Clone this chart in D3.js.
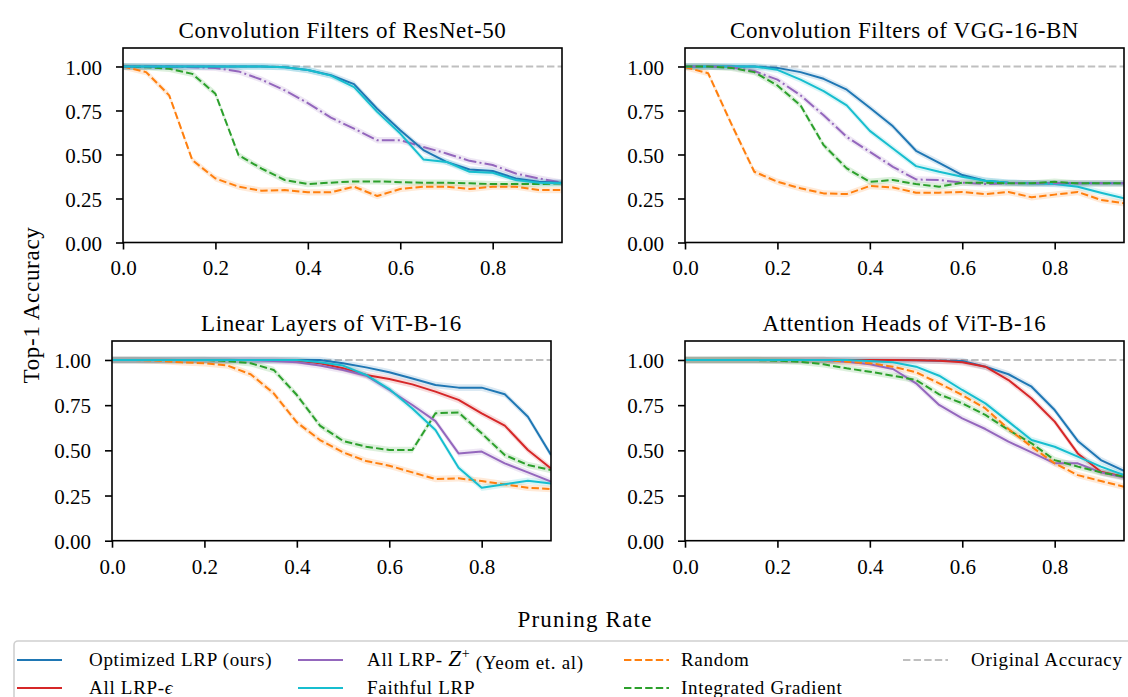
<!DOCTYPE html>
<html>
<head>
<meta charset="utf-8">
<script src="https://cdn.jsdelivr.net/npm/d3@7.9.0/dist/d3.min.js"></script>
<style>
  body { margin: 0; background: #fff; }
  svg { font-family: "Liberation Serif", "DejaVu Serif", serif; }
</style>
</head>
<body>
<svg id="chart" width="1128" height="697"></svg>
<script>
// pruning rates shared by every panel
const rates = d3.range(20).map(i => i * 0.05);
const yTicks = [0, 0.25, 0.5, 0.75, 1.0];
const xTicks = [0, 0.2, 0.4, 0.6, 0.8];
const originalAccuracy = 1.0;
const band = 0.018; // half width of the shaded spread

// ---- Convolution Filters of ResNet-50
const resnetOptimized = [1, 1, 1, 1, 1, 1, 1, 0.996, 0.98, 0.95, 0.9, 0.76, 0.638, 0.525, 0.458, 0.415, 0.406, 0.364, 0.345, 0.34];
const resnetZplus     = [1, 1, 1, 0.996, 0.992, 0.972, 0.925, 0.864, 0.792, 0.709, 0.647, 0.581, 0.581, 0.543, 0.506, 0.464, 0.44, 0.392, 0.364, 0.34];
const resnetFaithful  = [1, 1, 1, 1, 1, 1, 1, 0.996, 0.98, 0.948, 0.883, 0.742, 0.619, 0.472, 0.458, 0.402, 0.396, 0.355, 0.34, 0.336];
const resnetRandom    = [1, 0.968, 0.836, 0.468, 0.364, 0.317, 0.294, 0.298, 0.285, 0.285, 0.317, 0.264, 0.304, 0.317, 0.317, 0.304, 0.317, 0.317, 0.298, 0.298];
const resnetIG        = [1, 0.996, 0.987, 0.958, 0.845, 0.496, 0.42, 0.355, 0.332, 0.34, 0.347, 0.347, 0.343, 0.34, 0.34, 0.336, 0.332, 0.332, 0.332, 0.336];

// ---- Convolution Filters of VGG-16-BN
const vggOptimized = [1, 1, 1, 1, 0.992, 0.968, 0.93, 0.868, 0.766, 0.66, 0.521, 0.453, 0.383, 0.351, 0.34, 0.336, 0.336, 0.336, 0.336, 0.336];
const vggZplus     = [1, 1, 0.996, 0.974, 0.925, 0.836, 0.723, 0.6, 0.515, 0.43, 0.358, 0.355, 0.34, 0.332, 0.336, 0.336, 0.336, 0.336, 0.336, 0.336];
const vggFaithful  = [1, 1, 1, 1, 0.981, 0.925, 0.86, 0.779, 0.634, 0.534, 0.434, 0.402, 0.374, 0.351, 0.34, 0.336, 0.332, 0.317, 0.283, 0.251];
const vggRandom    = [0.996, 0.962, 0.675, 0.402, 0.345, 0.308, 0.279, 0.275, 0.321, 0.313, 0.283, 0.283, 0.287, 0.275, 0.287, 0.257, 0.272, 0.287, 0.242, 0.223];
const vggIG        = [1, 1, 0.992, 0.968, 0.892, 0.779, 0.553, 0.421, 0.345, 0.355, 0.332, 0.317, 0.34, 0.34, 0.336, 0.336, 0.345, 0.336, 0.336, 0.336];

// ---- Linear Layers of ViT-B-16
const linOptimized = [1, 1, 1, 1, 1, 1, 1, 1, 1, 1, 0.982, 0.959, 0.932, 0.898, 0.862, 0.847, 0.847, 0.81, 0.686, 0.474];
const linEpsilon   = [1, 1, 1, 1, 1, 1, 1, 1, 0.996, 0.982, 0.954, 0.917, 0.895, 0.865, 0.825, 0.779, 0.705, 0.637, 0.502, 0.4];
const linZplus     = [1, 1, 1, 1, 1, 1, 1, 0.994, 0.987, 0.969, 0.945, 0.913, 0.834, 0.751, 0.662, 0.483, 0.493, 0.428, 0.378, 0.327];
const linFaithful  = [1, 1, 1, 1, 1, 1, 1, 1, 1, 0.987, 0.969, 0.917, 0.839, 0.732, 0.613, 0.404, 0.293, 0.312, 0.332, 0.317];
const linRandom    = [1, 1, 0.996, 0.987, 0.982, 0.969, 0.921, 0.815, 0.655, 0.557, 0.489, 0.441, 0.415, 0.378, 0.341, 0.345, 0.33, 0.312, 0.293, 0.286];
const linIG        = [1, 1, 1, 1, 1, 0.994, 0.982, 0.945, 0.806, 0.637, 0.552, 0.52, 0.502, 0.502, 0.705, 0.71, 0.594, 0.474, 0.419, 0.391];

// ---- Attention Heads of ViT-B-16
const attOptimized = [1, 1, 1, 1, 1, 1, 1, 1, 1, 1, 0.998, 0.996, 0.994, 0.963, 0.921, 0.852, 0.723, 0.552, 0.446, 0.386];
const attEpsilon   = [1, 1, 1, 1, 1, 1, 1, 1, 1, 1, 0.998, 0.996, 0.987, 0.963, 0.889, 0.787, 0.659, 0.483, 0.382, 0.354];
const attZplus     = [1, 1, 1, 1, 1, 1, 1, 0.99, 0.976, 0.95, 0.871, 0.751, 0.677, 0.618, 0.548, 0.489, 0.428, 0.428, 0.378, 0.349];
const attFaithful  = [1, 1, 1, 1, 1, 1, 1, 1, 0.994, 0.987, 0.963, 0.913, 0.834, 0.76, 0.659, 0.557, 0.52, 0.465, 0.41, 0.363];
const attRandom    = [1, 1, 1, 1, 1, 1, 1, 0.99, 0.982, 0.963, 0.932, 0.871, 0.806, 0.732, 0.618, 0.52, 0.428, 0.363, 0.33, 0.299];
const attIG        = [1, 1, 1, 1, 0.996, 0.99, 0.976, 0.954, 0.935, 0.913, 0.889, 0.81, 0.76, 0.696, 0.613, 0.539, 0.446, 0.41, 0.378, 0.354];

const C = {
  blue: '#1f77b4', red: '#d62728', purple: '#9467bd',
  cyan: '#17becf', orange: '#ff7f0e', green: '#2ca02c', gray: '#bfbfbf'
};
const LW = 2;
const DASH = `${3.7 * LW},${1.6 * LW}`;
const DASHDOT = `${6.4 * LW},${1.6 * LW},${1 * LW},${1.6 * LW}`;

const panels = [
  {
    title: 'Convolution Filters of ResNet-50', box: [123, 48, 562, 242.5],
    series: [
      { v: resnetIG, c: C.green, dash: DASH },
      { v: resnetRandom, c: C.orange, dash: DASH },
      { v: resnetZplus, c: C.purple, dash: DASHDOT },
      { v: resnetOptimized, c: C.blue },
      { v: resnetFaithful, c: C.cyan },
    ]
  },
  {
    title: 'Convolution Filters of VGG-16-BN', box: [685, 48, 1124, 242.5],
    series: [
      { v: vggRandom, c: C.orange, dash: DASH },
      { v: vggOptimized, c: C.blue },
      { v: vggFaithful, c: C.cyan },
      { v: vggZplus, c: C.purple, dash: DASHDOT },
      { v: vggIG, c: C.green, dash: DASH },
    ]
  },
  {
    title: 'Linear Layers of ViT-B-16', box: [112, 341, 551, 540.7],
    series: [
      { v: linRandom, c: C.orange, dash: DASH },
      { v: linIG, c: C.green, dash: DASH },
      { v: linOptimized, c: C.blue },
      { v: linEpsilon, c: C.red },
      { v: linZplus, c: C.purple },
      { v: linFaithful, c: C.cyan },
    ]
  },
  {
    title: 'Attention Heads of ViT-B-16', box: [685, 341, 1124, 540.7],
    series: [
      { v: attOptimized, c: C.blue },
      { v: attEpsilon, c: C.red },
      { v: attZplus, c: C.purple },
      { v: attIG, c: C.green, dash: DASH },
      { v: attRandom, c: C.orange, dash: DASH },
      { v: attFaithful, c: C.cyan },
    ]
  },
];

const svg = d3.select('#chart');

panels.forEach(p => {
  const [x0, y0, x1, y1] = p.box;
  const x = d3.scaleLinear().domain([0, 0.95]).range([x0, x1]);
  const y = d3.scaleLinear().domain([0, 1.105]).range([y1, y0]);
  const g = svg.append('g');

  // original accuracy reference
  g.append('line')
    .attr('x1', x(0)).attr('x2', x(0.95))
    .attr('y1', y(originalAccuracy)).attr('y2', y(originalAccuracy))
    .attr('stroke', C.gray).attr('stroke-width', LW).attr('stroke-dasharray', DASH);

  const area = d3.area()
    .x((d, i) => x(rates[i]))
    .y0(d => y(d - band))
    .y1(d => y(d + band));
  const line = d3.line().x((d, i) => x(rates[i])).y(d => y(d));

  const clipId = 'clip' + x0 + '_' + y0;
  svg.append('clipPath').attr('id', clipId)
    .append('rect').attr('x', x0).attr('y', y0).attr('width', x1 - x0).attr('height', y1 - y0);
  const plot = g.append('g').attr('clip-path', `url(#${clipId})`);

  p.series.forEach(s => {
    plot.append('path').datum(s.v).attr('d', area)
      .attr('fill', s.c).attr('fill-opacity', 0.16).attr('stroke', 'none');
  });
  p.series.forEach(s => {
    plot.append('path').datum(s.v).attr('d', line)
      .attr('fill', 'none').attr('stroke', s.c).attr('stroke-width', LW)
      .attr('stroke-dasharray', s.dash || null)
      .attr('stroke-linejoin', 'round');
  });

  // axes
  const xAxis = g.append('g').attr('transform', `translate(0,${y1})`)
    .call(d3.axisBottom(x).tickValues(xTicks).tickFormat(d3.format('.1f')).tickSize(7).tickPadding(11));
  const yAxis = g.append('g').attr('transform', `translate(${x0},0)`)
    .call(d3.axisLeft(y).tickValues(yTicks).tickFormat(d3.format('.2f')).tickSize(7).tickPadding(14));
  [xAxis, yAxis].forEach(a => {
    a.select('.domain').remove();
    a.selectAll('line').attr('stroke', '#000').attr('stroke-width', 1.6);
    a.selectAll('text').attr('fill', '#000').style('font-size', '21px')
      .style('font-family', '"Liberation Serif", serif');
  });
  yAxis.selectAll('text').attr('dy', '0.36em');

  g.append('rect').attr('x', x0).attr('y', y0).attr('width', x1 - x0).attr('height', y1 - y0)
    .attr('fill', 'none').attr('stroke', '#000').attr('stroke-width', 1.6);

  g.append('text').attr('x', (x0 + x1) / 2).attr('y', y0 - 10)
    .attr('text-anchor', 'middle').style('font-size', '23px').style('letter-spacing', '0.6px')
    .text(p.title);
});

// shared axis labels
svg.append('text').attr('transform', 'translate(39,305) rotate(-90)')
  .attr('text-anchor', 'middle').style('font-size', '23px').style('letter-spacing', '0.7px')
  .text('Top-1 Accuracy');
svg.append('text').attr('x', 585).attr('y', 627)
  .attr('text-anchor', 'middle').style('font-size', '23px').style('letter-spacing', '1.2px')
  .text('Pruning Rate');

// legend
const legend = svg.append('g');
legend.append('rect').attr('x', 14).attr('y', 641).attr('width', 1140).attr('height', 80)
  .attr('rx', 4).attr('fill', '#fff').attr('stroke', '#d0d0d0').attr('stroke-width', 1.6);

const legendItems = [
  { label: 'Optimized LRP (ours)', c: C.blue, hx: 17, tx: 89, row: 0 },
  { label: 'All LRP-ε', c: C.red, hx: 17, tx: 89, row: 1, eps: true },
  { label: 'All LRP-Z', c: C.purple, hx: 298, tx: 367, row: 0, zplus: true },
  { label: 'Faithful LRP', c: C.cyan, hx: 298, tx: 367, row: 1 },
  { label: 'Random', c: C.orange, hx: 624, tx: 681, row: 0, dash: DASH },
  { label: 'Integrated Gradient', c: C.green, hx: 624, tx: 681, row: 1, dash: DASH },
  { label: 'Original Accuracy', c: C.gray, hx: 903, tx: 971, row: 0, dash: DASH },
];
const rowY = [660, 688];
legendItems.forEach(it => {
  const yy = rowY[it.row];
  legend.append('line').attr('x1', it.hx).attr('x2', it.hx + 45)
    .attr('y1', yy).attr('y2', yy)
    .attr('stroke', it.c).attr('stroke-width', LW).attr('stroke-dasharray', it.dash || null);
  const t = legend.append('text').attr('x', it.tx).attr('y', yy).attr('dy', '0.33em')
    .style('font-size', '19px').style('letter-spacing', '0.7px');
  if (it.zplus) {
    t.append('tspan').text('All LRP- ');
    t.append('tspan').style('font-style', 'italic').style('font-size', '23px').text('Z');
    t.append('tspan').attr('dy', '-0.6em').style('font-size', '14px').text('+');
    t.append('tspan').attr('dy', '0.6em').text(' (Yeom et. al)');
  } else if (it.eps) {
    t.append('tspan').text('All LRP-');
    t.append('tspan').style('font-style', 'italic').text('ϵ');
  } else {
    t.text(it.label);
  }
});
</script>
</body>
</html>
